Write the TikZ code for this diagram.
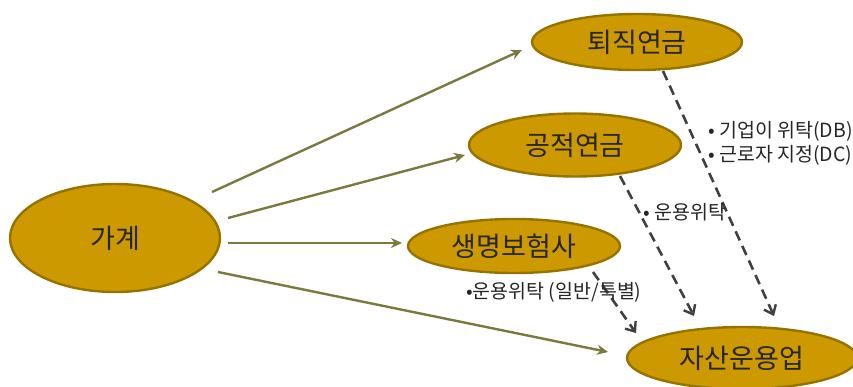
\documentclass[tikz,border=0pt]{standalone}
\usepackage{fontspec}
\newfontfamily\kr{Noto Sans CJK KR}
\usetikzlibrary{arrows.meta,shapes.geometric}
\definecolor{gold}{RGB}{204,153,0}
\definecolor{goldedge}{RGB}{150,115,0}
\definecolor{olive}{RGB}{122,122,62}
\definecolor{dashc}{RGB}{64,64,64}
\definecolor{txt}{RGB}{38,38,38}
\begin{document}
\begin{tikzpicture}[x=1pt,y=-1pt,
  oval/.style={ellipse,draw=goldedge,line width=2.4pt,fill=gold,inner sep=0pt,text=txt,font=\kr\fontsize{27}{30}\selectfont},
  flow/.style={draw=olive,line width=2.4pt,-{Stealth[length=11pt,width=10pt]}},
  dflow/.style={draw=dashc,line width=2.6pt,dash pattern=on 10pt off 6pt,-{Straight Barb[length=8pt,width=13pt,line width=2.4pt]}},
  lbl/.style={text=txt,font=\kr\fontsize{19.5}{24}\selectfont,anchor=west,inner sep=0pt}]
\useasboundingbox (0,0) rectangle (853,386);
\clip (0,0) rectangle (853,386);
\node[oval,minimum width=210pt,minimum height=108pt] (home) at (115,238) {가계};
\node[oval,minimum width=210pt,minimum height=56pt] (ret) at (637,42) {퇴직연금};
\node[oval,minimum width=212pt,minimum height=63pt] (pub) at (575,145) {공적연금};
\node[oval,minimum width=212pt,minimum height=54pt] (life) at (514,246) {생명보험사};
\node[oval,minimum width=230pt,minimum height=62pt] (am) at (742,358) {자산운용업};
\coordinate (h1) at (212,192);
\coordinate (h2) at (228,218);
\coordinate (h3) at (228,243);
\coordinate (h4) at (218,272);
\coordinate (t1) at (522,50);
\coordinate (t2) at (465,155);
\coordinate (t3) at (402,243);
\coordinate (t4) at (608,352);
\draw[flow] (h1) -- (t1);
\draw[flow] (h2) -- (t2);
\draw[flow] (h3) -- (t3);
\draw[flow] (h4) -- (t4);
\coordinate (r0) at (663,71);
\coordinate (r1) at (774,316);
\coordinate (p0) at (620,176);
\coordinate (p1) at (694,316);
\coordinate (l0) at (593,272);
\coordinate (l1) at (636,333);
\draw[dflow] (r0) -- (r1);
\draw[dflow] (p0) -- (p1);
\draw[dflow] (l0) -- (l1);
\node[lbl] (a1) at (708,131) {• 기업이 위탁(DB)};
\node[lbl] (a2) at (708,155) {• 근로자 지정(DC)};
\node[lbl] (a3) at (643,212) {• 운용위탁};
\node[lbl] (a4) at (466,292) {•운용위탁 (일반/특별)};
\end{tikzpicture}
\end{document}
